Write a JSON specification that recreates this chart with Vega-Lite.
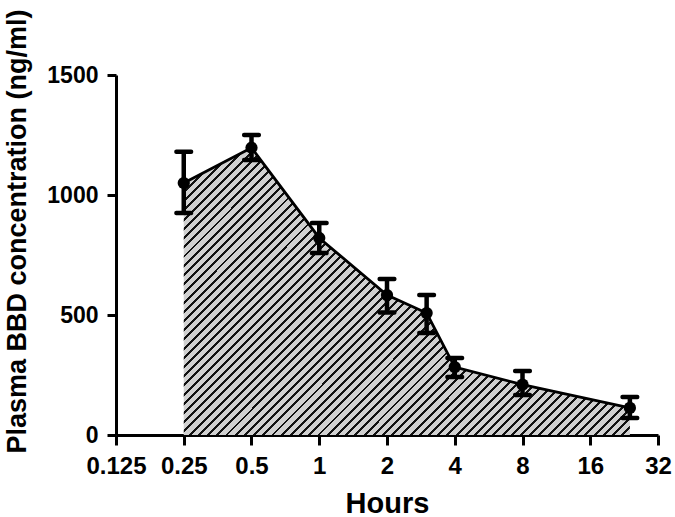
{
  "$schema": "https://vega.github.io/schema/vega-lite/v6.json",
  "autosize": "none",
  "width": 542,
  "height": 360,
  "padding": {"left": 116, "top": 75, "right": 17, "bottom": 82},
  "background": "white",
  "config": {
    "view": {"stroke": null},
    "font": "Liberation Sans",
    "axis": {
      "domainColor": "black", "domainWidth": 3, "tickColor": "black", "tickWidth": 3,
      "labelFont": "Liberation Sans", "labelFontWeight": "bold", "labelColor": "black", "labelFontSize": 23,
      "titleFont": "Liberation Sans", "titleFontWeight": "bold", "titleColor": "black", "grid": false
    }
  },
  "data": {"values": [
    {"hours": 0.25, "mean": 1050, "lo": 925, "hi": 1180},
    {"hours": 0.5, "mean": 1197, "lo": 1146, "hi": 1250},
    {"hours": 1, "mean": 821, "lo": 758, "hi": 883},
    {"hours": 2, "mean": 583, "lo": 510, "hi": 650},
    {"hours": 3, "mean": 508, "lo": 425, "hi": 583},
    {"hours": 4, "mean": 283, "lo": 242, "hi": 321},
    {"hours": 8, "mean": 210, "lo": 167, "hi": 267},
    {"hours": 24, "mean": 113, "lo": 71, "hi": 158}
  ]},
  "layer": [
    {
      "mark": {"type": "area", "strokeWidth": 0, "fill": {
        "gradient": "linear", "x1": 0, "y1": 0, "x2": 1.167, "y2": 0.751,
        "stops": [
{"offset":0,"color":"#d0d0d0"},{"offset":0.0085,"color":"#d0d0d0"},{"offset":0.0085,"color":"#111111"},{"offset":0.0125,"color":"#111111"},
{"offset":0.0125,"color":"#d0d0d0"},{"offset":0.021,"color":"#d0d0d0"},{"offset":0.021,"color":"#111111"},{"offset":0.025,"color":"#111111"},
{"offset":0.025,"color":"#d0d0d0"},{"offset":0.0335,"color":"#d0d0d0"},{"offset":0.0335,"color":"#111111"},{"offset":0.0375,"color":"#111111"},
{"offset":0.0375,"color":"#d0d0d0"},{"offset":0.046,"color":"#d0d0d0"},{"offset":0.046,"color":"#111111"},{"offset":0.05,"color":"#111111"},
{"offset":0.05,"color":"#d0d0d0"},{"offset":0.0585,"color":"#d0d0d0"},{"offset":0.0585,"color":"#111111"},{"offset":0.0625,"color":"#111111"},
{"offset":0.0625,"color":"#d0d0d0"},{"offset":0.071,"color":"#d0d0d0"},{"offset":0.071,"color":"#111111"},{"offset":0.075,"color":"#111111"},
{"offset":0.075,"color":"#d0d0d0"},{"offset":0.0835,"color":"#d0d0d0"},{"offset":0.0835,"color":"#111111"},{"offset":0.0875,"color":"#111111"},
{"offset":0.0875,"color":"#d0d0d0"},{"offset":0.096,"color":"#d0d0d0"},{"offset":0.096,"color":"#111111"},{"offset":0.1,"color":"#111111"},
{"offset":0.1,"color":"#d0d0d0"},{"offset":0.1085,"color":"#d0d0d0"},{"offset":0.1085,"color":"#111111"},{"offset":0.1125,"color":"#111111"},
{"offset":0.1125,"color":"#d0d0d0"},{"offset":0.121,"color":"#d0d0d0"},{"offset":0.121,"color":"#111111"},{"offset":0.125,"color":"#111111"},
{"offset":0.125,"color":"#d0d0d0"},{"offset":0.1335,"color":"#d0d0d0"},{"offset":0.1335,"color":"#111111"},{"offset":0.1375,"color":"#111111"},
{"offset":0.1375,"color":"#d0d0d0"},{"offset":0.146,"color":"#d0d0d0"},{"offset":0.146,"color":"#111111"},{"offset":0.15,"color":"#111111"},
{"offset":0.15,"color":"#d0d0d0"},{"offset":0.1585,"color":"#d0d0d0"},{"offset":0.1585,"color":"#111111"},{"offset":0.1625,"color":"#111111"},
{"offset":0.1625,"color":"#d0d0d0"},{"offset":0.171,"color":"#d0d0d0"},{"offset":0.171,"color":"#111111"},{"offset":0.175,"color":"#111111"},
{"offset":0.175,"color":"#d0d0d0"},{"offset":0.1835,"color":"#d0d0d0"},{"offset":0.1835,"color":"#111111"},{"offset":0.1875,"color":"#111111"},
{"offset":0.1875,"color":"#d0d0d0"},{"offset":0.196,"color":"#d0d0d0"},{"offset":0.196,"color":"#111111"},{"offset":0.2,"color":"#111111"},
{"offset":0.2,"color":"#d0d0d0"},{"offset":0.2085,"color":"#d0d0d0"},{"offset":0.2085,"color":"#111111"},{"offset":0.2125,"color":"#111111"},
{"offset":0.2125,"color":"#d0d0d0"},{"offset":0.221,"color":"#d0d0d0"},{"offset":0.221,"color":"#111111"},{"offset":0.225,"color":"#111111"},
{"offset":0.225,"color":"#d0d0d0"},{"offset":0.2335,"color":"#d0d0d0"},{"offset":0.2335,"color":"#111111"},{"offset":0.2375,"color":"#111111"},
{"offset":0.2375,"color":"#d0d0d0"},{"offset":0.246,"color":"#d0d0d0"},{"offset":0.246,"color":"#111111"},{"offset":0.25,"color":"#111111"},
{"offset":0.25,"color":"#d0d0d0"},{"offset":0.2585,"color":"#d0d0d0"},{"offset":0.2585,"color":"#111111"},{"offset":0.2625,"color":"#111111"},
{"offset":0.2625,"color":"#d0d0d0"},{"offset":0.271,"color":"#d0d0d0"},{"offset":0.271,"color":"#111111"},{"offset":0.275,"color":"#111111"},
{"offset":0.275,"color":"#d0d0d0"},{"offset":0.2835,"color":"#d0d0d0"},{"offset":0.2835,"color":"#111111"},{"offset":0.2875,"color":"#111111"},
{"offset":0.2875,"color":"#d0d0d0"},{"offset":0.296,"color":"#d0d0d0"},{"offset":0.296,"color":"#111111"},{"offset":0.3,"color":"#111111"},
{"offset":0.3,"color":"#d0d0d0"},{"offset":0.3085,"color":"#d0d0d0"},{"offset":0.3085,"color":"#111111"},{"offset":0.3125,"color":"#111111"},
{"offset":0.3125,"color":"#d0d0d0"},{"offset":0.321,"color":"#d0d0d0"},{"offset":0.321,"color":"#111111"},{"offset":0.325,"color":"#111111"},
{"offset":0.325,"color":"#d0d0d0"},{"offset":0.3335,"color":"#d0d0d0"},{"offset":0.3335,"color":"#111111"},{"offset":0.3375,"color":"#111111"},
{"offset":0.3375,"color":"#d0d0d0"},{"offset":0.346,"color":"#d0d0d0"},{"offset":0.346,"color":"#111111"},{"offset":0.35,"color":"#111111"},
{"offset":0.35,"color":"#d0d0d0"},{"offset":0.3585,"color":"#d0d0d0"},{"offset":0.3585,"color":"#111111"},{"offset":0.3625,"color":"#111111"},
{"offset":0.3625,"color":"#d0d0d0"},{"offset":0.371,"color":"#d0d0d0"},{"offset":0.371,"color":"#111111"},{"offset":0.375,"color":"#111111"},
{"offset":0.375,"color":"#d0d0d0"},{"offset":0.3835,"color":"#d0d0d0"},{"offset":0.3835,"color":"#111111"},{"offset":0.3875,"color":"#111111"},
{"offset":0.3875,"color":"#d0d0d0"},{"offset":0.396,"color":"#d0d0d0"},{"offset":0.396,"color":"#111111"},{"offset":0.4,"color":"#111111"},
{"offset":0.4,"color":"#d0d0d0"},{"offset":0.4085,"color":"#d0d0d0"},{"offset":0.4085,"color":"#111111"},{"offset":0.4125,"color":"#111111"},
{"offset":0.4125,"color":"#d0d0d0"},{"offset":0.421,"color":"#d0d0d0"},{"offset":0.421,"color":"#111111"},{"offset":0.425,"color":"#111111"},
{"offset":0.425,"color":"#d0d0d0"},{"offset":0.4335,"color":"#d0d0d0"},{"offset":0.4335,"color":"#111111"},{"offset":0.4375,"color":"#111111"},
{"offset":0.4375,"color":"#d0d0d0"},{"offset":0.446,"color":"#d0d0d0"},{"offset":0.446,"color":"#111111"},{"offset":0.45,"color":"#111111"},
{"offset":0.45,"color":"#d0d0d0"},{"offset":0.4585,"color":"#d0d0d0"},{"offset":0.4585,"color":"#111111"},{"offset":0.4625,"color":"#111111"},
{"offset":0.4625,"color":"#d0d0d0"},{"offset":0.471,"color":"#d0d0d0"},{"offset":0.471,"color":"#111111"},{"offset":0.475,"color":"#111111"},
{"offset":0.475,"color":"#d0d0d0"},{"offset":0.4835,"color":"#d0d0d0"},{"offset":0.4835,"color":"#111111"},{"offset":0.4875,"color":"#111111"},
{"offset":0.4875,"color":"#d0d0d0"},{"offset":0.496,"color":"#d0d0d0"},{"offset":0.496,"color":"#111111"},{"offset":0.5,"color":"#111111"},
{"offset":0.5,"color":"#d0d0d0"},{"offset":0.5085,"color":"#d0d0d0"},{"offset":0.5085,"color":"#111111"},{"offset":0.5125,"color":"#111111"},
{"offset":0.5125,"color":"#d0d0d0"},{"offset":0.521,"color":"#d0d0d0"},{"offset":0.521,"color":"#111111"},{"offset":0.525,"color":"#111111"},
{"offset":0.525,"color":"#d0d0d0"},{"offset":0.5335,"color":"#d0d0d0"},{"offset":0.5335,"color":"#111111"},{"offset":0.5375,"color":"#111111"},
{"offset":0.5375,"color":"#d0d0d0"},{"offset":0.546,"color":"#d0d0d0"},{"offset":0.546,"color":"#111111"},{"offset":0.55,"color":"#111111"},
{"offset":0.55,"color":"#d0d0d0"},{"offset":0.5585,"color":"#d0d0d0"},{"offset":0.5585,"color":"#111111"},{"offset":0.5625,"color":"#111111"},
{"offset":0.5625,"color":"#d0d0d0"},{"offset":0.571,"color":"#d0d0d0"},{"offset":0.571,"color":"#111111"},{"offset":0.575,"color":"#111111"},
{"offset":0.575,"color":"#d0d0d0"},{"offset":0.5835,"color":"#d0d0d0"},{"offset":0.5835,"color":"#111111"},{"offset":0.5875,"color":"#111111"},
{"offset":0.5875,"color":"#d0d0d0"},{"offset":0.596,"color":"#d0d0d0"},{"offset":0.596,"color":"#111111"},{"offset":0.6,"color":"#111111"},
{"offset":0.6,"color":"#d0d0d0"},{"offset":0.6085,"color":"#d0d0d0"},{"offset":0.6085,"color":"#111111"},{"offset":0.6125,"color":"#111111"},
{"offset":0.6125,"color":"#d0d0d0"},{"offset":0.621,"color":"#d0d0d0"},{"offset":0.621,"color":"#111111"},{"offset":0.625,"color":"#111111"},
{"offset":0.625,"color":"#d0d0d0"},{"offset":0.6335,"color":"#d0d0d0"},{"offset":0.6335,"color":"#111111"},{"offset":0.6375,"color":"#111111"},
{"offset":0.6375,"color":"#d0d0d0"},{"offset":0.646,"color":"#d0d0d0"},{"offset":0.646,"color":"#111111"},{"offset":0.65,"color":"#111111"},
{"offset":0.65,"color":"#d0d0d0"},{"offset":0.6585,"color":"#d0d0d0"},{"offset":0.6585,"color":"#111111"},{"offset":0.6625,"color":"#111111"},
{"offset":0.6625,"color":"#d0d0d0"},{"offset":0.671,"color":"#d0d0d0"},{"offset":0.671,"color":"#111111"},{"offset":0.675,"color":"#111111"},
{"offset":0.675,"color":"#d0d0d0"},{"offset":0.6835,"color":"#d0d0d0"},{"offset":0.6835,"color":"#111111"},{"offset":0.6875,"color":"#111111"},
{"offset":0.6875,"color":"#d0d0d0"},{"offset":0.696,"color":"#d0d0d0"},{"offset":0.696,"color":"#111111"},{"offset":0.7,"color":"#111111"},
{"offset":0.7,"color":"#d0d0d0"},{"offset":0.7085,"color":"#d0d0d0"},{"offset":0.7085,"color":"#111111"},{"offset":0.7125,"color":"#111111"},
{"offset":0.7125,"color":"#d0d0d0"},{"offset":0.721,"color":"#d0d0d0"},{"offset":0.721,"color":"#111111"},{"offset":0.725,"color":"#111111"},
{"offset":0.725,"color":"#d0d0d0"},{"offset":0.7335,"color":"#d0d0d0"},{"offset":0.7335,"color":"#111111"},{"offset":0.7375,"color":"#111111"},
{"offset":0.7375,"color":"#d0d0d0"},{"offset":0.746,"color":"#d0d0d0"},{"offset":0.746,"color":"#111111"},{"offset":0.75,"color":"#111111"},
{"offset":0.75,"color":"#d0d0d0"},{"offset":0.7585,"color":"#d0d0d0"},{"offset":0.7585,"color":"#111111"},{"offset":0.7625,"color":"#111111"},
{"offset":0.7625,"color":"#d0d0d0"},{"offset":0.771,"color":"#d0d0d0"},{"offset":0.771,"color":"#111111"},{"offset":0.775,"color":"#111111"},
{"offset":0.775,"color":"#d0d0d0"},{"offset":0.7835,"color":"#d0d0d0"},{"offset":0.7835,"color":"#111111"},{"offset":0.7875,"color":"#111111"},
{"offset":0.7875,"color":"#d0d0d0"},{"offset":0.796,"color":"#d0d0d0"},{"offset":0.796,"color":"#111111"},{"offset":0.8,"color":"#111111"},
{"offset":0.8,"color":"#d0d0d0"},{"offset":0.8085,"color":"#d0d0d0"},{"offset":0.8085,"color":"#111111"},{"offset":0.8125,"color":"#111111"},
{"offset":0.8125,"color":"#d0d0d0"},{"offset":0.821,"color":"#d0d0d0"},{"offset":0.821,"color":"#111111"},{"offset":0.825,"color":"#111111"},
{"offset":0.825,"color":"#d0d0d0"},{"offset":0.8335,"color":"#d0d0d0"},{"offset":0.8335,"color":"#111111"},{"offset":0.8375,"color":"#111111"},
{"offset":0.8375,"color":"#d0d0d0"},{"offset":0.846,"color":"#d0d0d0"},{"offset":0.846,"color":"#111111"},{"offset":0.85,"color":"#111111"},
{"offset":0.85,"color":"#d0d0d0"},{"offset":0.8585,"color":"#d0d0d0"},{"offset":0.8585,"color":"#111111"},{"offset":0.8625,"color":"#111111"},
{"offset":0.8625,"color":"#d0d0d0"},{"offset":0.871,"color":"#d0d0d0"},{"offset":0.871,"color":"#111111"},{"offset":0.875,"color":"#111111"},
{"offset":0.875,"color":"#d0d0d0"},{"offset":0.8835,"color":"#d0d0d0"},{"offset":0.8835,"color":"#111111"},{"offset":0.8875,"color":"#111111"},
{"offset":0.8875,"color":"#d0d0d0"},{"offset":0.896,"color":"#d0d0d0"},{"offset":0.896,"color":"#111111"},{"offset":0.9,"color":"#111111"},
{"offset":0.9,"color":"#d0d0d0"},{"offset":0.9085,"color":"#d0d0d0"},{"offset":0.9085,"color":"#111111"},{"offset":0.9125,"color":"#111111"},
{"offset":0.9125,"color":"#d0d0d0"},{"offset":0.921,"color":"#d0d0d0"},{"offset":0.921,"color":"#111111"},{"offset":0.925,"color":"#111111"},
{"offset":0.925,"color":"#d0d0d0"},{"offset":0.9335,"color":"#d0d0d0"},{"offset":0.9335,"color":"#111111"},{"offset":0.9375,"color":"#111111"},
{"offset":0.9375,"color":"#d0d0d0"},{"offset":0.946,"color":"#d0d0d0"},{"offset":0.946,"color":"#111111"},{"offset":0.95,"color":"#111111"},
{"offset":0.95,"color":"#d0d0d0"},{"offset":0.9585,"color":"#d0d0d0"},{"offset":0.9585,"color":"#111111"},{"offset":0.9625,"color":"#111111"},
{"offset":0.9625,"color":"#d0d0d0"},{"offset":0.971,"color":"#d0d0d0"},{"offset":0.971,"color":"#111111"},{"offset":0.975,"color":"#111111"},
{"offset":0.975,"color":"#d0d0d0"},{"offset":0.9835,"color":"#d0d0d0"},{"offset":0.9835,"color":"#111111"},{"offset":0.9875,"color":"#111111"},
{"offset":0.9875,"color":"#d0d0d0"},{"offset":0.996,"color":"#d0d0d0"},{"offset":0.996,"color":"#111111"},{"offset":1,"color":"#111111"}
        ]
      }},
      "encoding": {
        "x": {"field": "hours", "type": "quantitative", "title": "Hours",
          "scale": {"type": "log", "base": 2, "domain": [0.125, 32], "nice": false},
          "axis": {"values": [0.125, 0.25, 0.5, 1, 2, 4, 8, 16, 32],
            "labelExpr": "'' + datum.value", "labelFlush": false, "labelOverlap": false, "labelBound": false,
            "labelFontSize": 24, "tickSize": 10, "labelPadding": 9, "titleFontSize": 29, "titleY": 77, "titleBaseline": "alphabetic"}},
        "y": {"field": "mean", "type": "quantitative", "title": "Plasma BBD concentration (ng/ml)",
          "scale": {"domain": [0, 1500], "nice": false},
          "axis": {"values": [0, 500, 1000, 1500], "format": "d",
            "tickSize": 9, "labelPadding": 9, "titleFontSize": 27, "titleX": -91, "titleY": 156,
            "titleBaseline": "alphabetic", "titleAlign": "center"}},
        "y2": {"datum": 0}
      }
    },
    {
      "mark": {"type": "line", "color": "black", "strokeWidth": 2.8},
      "encoding": {
        "x": {"field": "hours", "type": "quantitative", "title": "Hours"},
        "y": {"field": "mean", "type": "quantitative", "title": "Plasma BBD concentration (ng/ml)"}
      }
    },
    {
      "mark": {"type": "rule", "color": "black", "strokeWidth": 4.5},
      "encoding": {
        "x": {"field": "hours", "type": "quantitative", "title": "Hours"},
        "y": {"field": "lo", "type": "quantitative", "title": "Plasma BBD concentration (ng/ml)"},
        "y2": {"field": "hi"}
      }
    },
    {
      "mark": {"type": "tick", "orient": "horizontal", "color": "black", "size": 19, "thickness": 4.5, "cornerRadius": 2, "opacity": 1},
      "encoding": {
        "x": {"field": "hours", "type": "quantitative", "title": "Hours"},
        "y": {"field": "lo", "type": "quantitative", "title": "Plasma BBD concentration (ng/ml)"}
      }
    },
    {
      "mark": {"type": "tick", "orient": "horizontal", "color": "black", "size": 19, "thickness": 4.5, "cornerRadius": 2, "opacity": 1},
      "encoding": {
        "x": {"field": "hours", "type": "quantitative", "title": "Hours"},
        "y": {"field": "hi", "type": "quantitative", "title": "Plasma BBD concentration (ng/ml)"}
      }
    },
    {
      "mark": {"type": "point", "shape": "circle", "filled": true, "color": "black", "size": 150, "opacity": 1},
      "encoding": {
        "x": {"field": "hours", "type": "quantitative", "title": "Hours"},
        "y": {"field": "mean", "type": "quantitative", "title": "Plasma BBD concentration (ng/ml)"}
      }
    }
  ]
}
